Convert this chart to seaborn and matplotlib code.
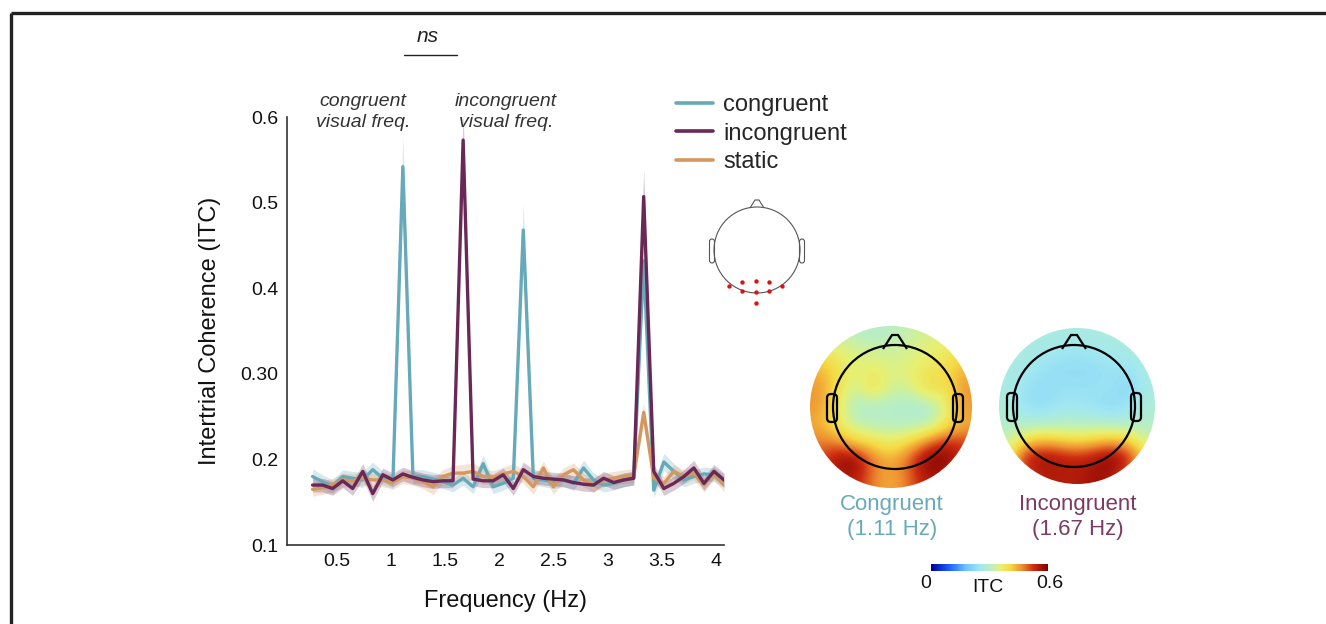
import numpy as np
import pandas as pd
import matplotlib
matplotlib.use("Agg")
import matplotlib.pyplot as plt
import seaborn as sns
from matplotlib.patches import Circle, Polygon, FancyBboxPatch
from matplotlib.lines import Line2D
import matplotlib.colors as mcolors
import matplotlib.cm as cm

sns.set_theme(style="white")
plt.rcParams['font.family'] = ['Liberation Sans', 'DejaVu Sans']

# ---- data ----
freq = [0.278, 0.370, 0.463, 0.556, 0.648, 0.741, 0.833, 0.926, 1.019, 1.111,
        1.204, 1.296, 1.389, 1.481, 1.574, 1.667, 1.759, 1.852, 1.944, 2.037,
        2.130, 2.222, 2.315, 2.407, 2.500, 2.593, 2.685, 2.778, 2.870, 2.963,
        3.056, 3.148, 3.241, 3.333, 3.426, 3.519, 3.611, 3.704, 3.796, 3.889,
        3.981, 4.074]

itc_congruent = [0.180, 0.174, 0.168, 0.180, 0.178, 0.176, 0.188, 0.178, 0.174, 0.542,
                 0.180, 0.180, 0.177, 0.174, 0.170, 0.178, 0.168, 0.195, 0.168, 0.172,
                 0.178, 0.468, 0.178, 0.176, 0.174, 0.176, 0.172, 0.190, 0.176, 0.170,
                 0.172, 0.176, 0.178, 0.432, 0.164, 0.197, 0.186, 0.176, 0.180, 0.183,
                 0.182, 0.175]
itc_incongruent = [0.170, 0.170, 0.166, 0.175, 0.166, 0.186, 0.160, 0.182, 0.176, 0.183,
                   0.179, 0.176, 0.174, 0.175, 0.175, 0.573, 0.177, 0.175, 0.175, 0.182,
                   0.166, 0.188, 0.180, 0.178, 0.177, 0.176, 0.173, 0.171, 0.170, 0.178,
                   0.173, 0.176, 0.178, 0.507, 0.186, 0.166, 0.172, 0.180, 0.190, 0.172,
                   0.186, 0.176]
itc_static = [0.165, 0.167, 0.170, 0.176, 0.175, 0.178, 0.176, 0.176, 0.173, 0.180,
              0.178, 0.174, 0.168, 0.180, 0.184, 0.184, 0.186, 0.180, 0.179, 0.183,
              0.186, 0.180, 0.168, 0.190, 0.168, 0.182, 0.188, 0.176, 0.170, 0.176,
              0.178, 0.180, 0.181, 0.255, 0.178, 0.172, 0.186, 0.180, 0.184, 0.170,
              0.184, 0.170]

err_congruent = [0.009, 0.008, 0.008, 0.008, 0.008, 0.009, 0.009, 0.008, 0.008, 0.036,
                 0.008, 0.008, 0.008, 0.008, 0.008, 0.008, 0.008, 0.010, 0.008, 0.008,
                 0.008, 0.031, 0.008, 0.008, 0.008, 0.008, 0.008, 0.009, 0.008, 0.008,
                 0.008, 0.008, 0.008, 0.030, 0.009, 0.010, 0.009, 0.008, 0.008, 0.008,
                 0.008, 0.008]
err_incongruent = [0.008, 0.008, 0.008, 0.008, 0.008, 0.009, 0.009, 0.008, 0.008, 0.008,
                   0.008, 0.008, 0.008, 0.008, 0.008, 0.034, 0.008, 0.008, 0.008, 0.008,
                   0.008, 0.009, 0.008, 0.008, 0.008, 0.008, 0.008, 0.008, 0.008, 0.008,
                   0.008, 0.008, 0.008, 0.032, 0.008, 0.008, 0.008, 0.008, 0.009, 0.008,
                   0.008, 0.008]
err_static = [0.008, 0.008, 0.008, 0.008, 0.008, 0.008, 0.008, 0.008, 0.008, 0.008,
              0.008, 0.008, 0.009, 0.008, 0.009, 0.010, 0.010, 0.009, 0.008, 0.008,
              0.009, 0.008, 0.009, 0.008, 0.009, 0.008, 0.008, 0.008, 0.008, 0.008,
              0.008, 0.008, 0.008, 0.012, 0.008, 0.008, 0.008, 0.008, 0.008, 0.008,
              0.008, 0.008]

conditions = ['congruent', 'incongruent', 'static']
COLORS = {'congruent': '#66a9b8', 'incongruent': '#6a2856', 'static': '#d49760'}

yticks = [0.1, 0.2, 0.3, 0.4, 0.5, 0.6]
ytick_labels = ['0.1', '0.2', '0.30', '0.4', '0.5', '0.6']
xticks = [0.5, 1, 1.5, 2, 2.5, 3, 3.5, 4]
xtick_labels = ['0.5', '1', '1.5', '2', '2.5', '3', '3.5', '4']

# coarse scalp maps (rows top->bottom, cols left->right), ITC values
topo_congruent = [
    [0.33, 0.33, 0.30, 0.29, 0.30, 0.32, 0.34, 0.35, 0.35],
    [0.40, 0.36, 0.35, 0.34, 0.33, 0.34, 0.36, 0.37, 0.40],
    [0.44, 0.40, 0.35, 0.37, 0.35, 0.36, 0.38, 0.40, 0.44],
    [0.46, 0.40, 0.32, 0.41, 0.33, 0.33, 0.41, 0.38, 0.46],
    [0.46, 0.38, 0.29, 0.28, 0.29, 0.28, 0.27, 0.35, 0.46],
    [0.44, 0.38, 0.32, 0.31, 0.30, 0.30, 0.31, 0.37, 0.44],
    [0.48, 0.48, 0.42, 0.40, 0.37, 0.41, 0.48, 0.55, 0.52],
    [0.50, 0.58, 0.60, 0.48, 0.44, 0.50, 0.60, 0.60, 0.52],
    [0.50, 0.54, 0.55, 0.47, 0.44, 0.48, 0.56, 0.54, 0.50],
]
topo_incongruent = [
    [0.27, 0.27, 0.27, 0.27, 0.27, 0.27, 0.27, 0.27, 0.27],
    [0.27, 0.27, 0.26, 0.25, 0.24, 0.25, 0.26, 0.27, 0.27],
    [0.27, 0.26, 0.24, 0.23, 0.23, 0.23, 0.24, 0.24, 0.27],
    [0.27, 0.24, 0.23, 0.24, 0.24, 0.24, 0.25, 0.21, 0.27],
    [0.28, 0.24, 0.23, 0.25, 0.25, 0.24, 0.22, 0.25, 0.28],
    [0.29, 0.28, 0.28, 0.29, 0.29, 0.29, 0.28, 0.28, 0.29],
    [0.32, 0.40, 0.44, 0.42, 0.40, 0.42, 0.44, 0.42, 0.33],
    [0.37, 0.55, 0.57, 0.56, 0.54, 0.56, 0.60, 0.54, 0.40],
    [0.40, 0.50, 0.55, 0.55, 0.55, 0.57, 0.56, 0.48, 0.40],
]

# occipital electrode cluster on the small head (pixel coords)
elec_x = [729, 742, 756, 769, 782, 742, 756, 769, 756]
elec_y = [286, 282, 281, 282, 286, 291, 292, 291, 303]

# softened jet-like colormap as in the scalp maps
topo_cmap = mcolors.LinearSegmentedColormap.from_list('softjet', [
    (0.00, '#00009c'), (0.15, '#1a5cff'), (0.30, '#6fc4ff'), (0.42, '#a2e8f2'),
    (0.52, '#bff0b8'), (0.60, '#e8f070'), (0.68, '#f6d842'), (0.78, '#ee8c30'),
    (0.88, '#cc2a10'), (1.00, '#800000')])

W, H = 1326, 624
fig = plt.figure(figsize=(W / 100, H / 100), dpi=100)

# overlay axes in pixel coordinates for the decorations
ov = fig.add_axes([0, 0, 1, 1])
ov.set_xlim(0, W)
ov.set_ylim(H, 0)
ov.axis('off')

# ---- main ITC spectrum ----
ax = fig.add_axes([287 / W, 1 - 545 / H, (724 - 287) / W, (545 - 117) / H])
values = {'congruent': itc_congruent, 'incongruent': itc_incongruent, 'static': itc_static}
errors = {'congruent': err_congruent, 'incongruent': err_incongruent, 'static': err_static}
df = pd.concat([pd.DataFrame({'freq': freq, 'itc': values[c], 'err': errors[c], 'condition': c})
                for c in conditions], ignore_index=True)

for c in ['congruent', 'static', 'incongruent']:
    sub = df[df['condition'] == c]
    ax.fill_between(sub['freq'], sub['itc'] - sub['err'], sub['itc'] + sub['err'],
                    color=COLORS[c], alpha=0.25, lw=0)
    sns.lineplot(data=sub, x='freq', y='itc', color=COLORS[c], lw=2.4,
                 errorbar=None, ax=ax, legend=False)

ax.set_xlim(0.042, 4.074)
ax.set_ylim(0.1, 0.6)
ax.set_xticks(xticks)
ax.set_xticklabels(xtick_labels)
ax.set_yticks(yticks)
ax.set_yticklabels(ytick_labels)
ax.tick_params(direction='in', length=5, width=1.1, colors='#333333',
               labelcolor='#111111', labelsize=14, pad=6)
for s in ['top', 'right']:
    ax.spines[s].set_visible(False)
for s in ['left', 'bottom']:
    ax.spines[s].set_color('#333333')
    ax.spines[s].set_linewidth(1.2)
ax.set_xlabel('Frequency (Hz)', fontsize=17, color='#111111', labelpad=14)
ax.set_ylabel('Intertrial Coherence (ITC)', fontsize=17, color='#111111', labelpad=14)
ax.patch.set_visible(False)

handles = [Line2D([], [], color=COLORS[c], lw=2.6) for c in conditions]
ax.legend(handles, conditions, loc='upper left', bbox_to_anchor=(676 / W, 1 - 94 / H),
          bbox_transform=fig.transFigure, frameon=False, fontsize=17,
          handlelength=1.55, handletextpad=0.45, labelspacing=0.28,
          borderpad=0, borderaxespad=0)

# ---- annotations ----
ov.text(363, 112, 'congruent\nvisual freq.', ha='center', va='center', style='italic',
        fontsize=14, color='#333333', linespacing=1.3)
ov.text(506, 112, 'incongruent\nvisual freq.', ha='center', va='center', style='italic',
        fontsize=14, color='#333333', linespacing=1.3)
ov.text(428, 36, 'ns', ha='center', va='center', style='italic', fontsize=15, color='#222222')
ov.plot([404, 457], [55, 55], color='#222222', lw=1)

# figure frame (top and left edges)
ov.plot([11, 11], [13, H], color='#222222', lw=2.4, clip_on=False, solid_capstyle='butt')
ov.plot([11, W], [13, 13], color='#222222', lw=2.4, clip_on=False, solid_capstyle='butt')

# ---- small head with electrode cluster ----
hcx, hcy, hr = 757, 250, 43
ov.add_patch(Circle((hcx, hcy), hr, fill=False, ec='#555555', lw=0.8))
ov.add_patch(Polygon([(hcx - 7, hcy - hr + 1), (hcx - 2, hcy - hr - 7), (hcx + 2, hcy - hr - 7),
                      (hcx + 7, hcy - hr + 1)], closed=False, fill=False, ec='#555555', lw=0.8))
for side in (-1, 1):
    ex = hcx + side * (hr + 2)
    ov.add_patch(FancyBboxPatch((ex - 2.5, hcy - 11), 5, 24,
                                boxstyle='round,pad=0,rounding_size=2.5',
                                fill=False, ec='#555555', lw=0.8))
ov.scatter(elec_x, elec_y, s=10, color='#e01010', zorder=5, lw=0)

# ---- scalp maps ----
norm = mcolors.Normalize(vmin=0, vmax=0.6)


def draw_topo(grid, cx, cy, r, hx, hr_):
    im = ov.imshow(np.array(grid), cmap=topo_cmap, norm=norm, interpolation='bicubic',
                   extent=(cx - r, cx + r, cy + r, cy - r), aspect='auto', zorder=1)
    im.set_clip_path(Circle((cx, cy), r, transform=ov.transData))
    ov.add_patch(Circle((hx, cy), hr_, fill=False, ec='black', lw=1.6, zorder=3))
    ov.add_patch(Polygon([(hx - 12, cy - hr_ + 4), (hx - 3, cy - hr_ - 10), (hx + 3, cy - hr_ - 10),
                          (hx + 12, cy - hr_ + 4)], closed=False, fill=False,
                         ec='black', lw=1.6, zorder=3))
    for side in (-1, 1):
        ex = hx + side * (hr_ + 1)
        ov.add_patch(FancyBboxPatch((ex - 5, cy - 13), 10, 28,
                                    boxstyle='round,pad=0,rounding_size=4',
                                    fill=False, ec='black', lw=1.6, zorder=3))
    ov.set_xlim(0, W)
    ov.set_ylim(H, 0)


draw_topo(topo_congruent, 891, 407, 81, 895, 62)
draw_topo(topo_incongruent, 1077, 406, 78, 1074, 61)

ov.text(892, 517, 'Congruent\n(1.11 Hz)', ha='center', va='center', fontsize=16,
        color='#6aaab8', linespacing=1.25)
ov.text(1078, 517, 'Incongruent\n(1.67 Hz)', ha='center', va='center', fontsize=16,
        color='#7a3b66', linespacing=1.25)

# colorbar
cax = fig.add_axes([931 / W, 1 - 571 / H, 117 / W, 7 / H])
cb = fig.colorbar(cm.ScalarMappable(norm=norm, cmap=topo_cmap), cax=cax, orientation='horizontal')
cb.set_ticks([])
cb.outline.set_visible(False)
ov.text(926, 583, '0', ha='center', va='center', fontsize=14, color='#111111')
ov.text(988, 588, 'ITC', ha='center', va='center', fontsize=14, color='#111111')
ov.text(1050, 583, '0.6', ha='center', va='center', fontsize=14, color='#111111')

fig.savefig('out.png', dpi=100)
